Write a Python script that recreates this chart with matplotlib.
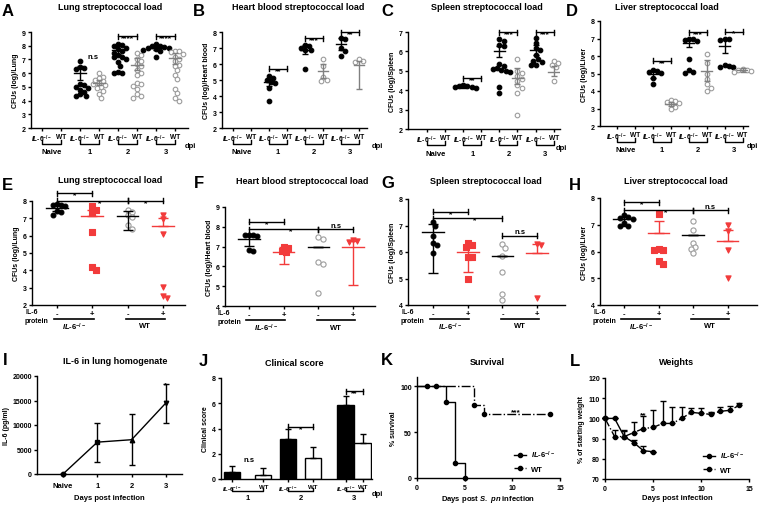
import numpy as np
import matplotlib
matplotlib.use('Agg')
import matplotlib.pyplot as plt
from matplotlib.transforms import blended_transform_factory
from matplotlib.lines import Line2D

plt.rcParams['font.family'] = ['Liberation Sans', 'DejaVu Sans']
plt.rcParams['font.weight'] = 'bold'
plt.rcParams['axes.labelweight'] = 'bold'
plt.rcParams['mathtext.fontset'] = 'custom'
plt.rcParams['mathtext.rm'] = 'Liberation Sans:bold'
plt.rcParams['mathtext.it'] = 'Liberation Sans:italic:bold'
plt.rcParams['mathtext.bf'] = 'Liberation Sans:bold'

nan = np.nan

# ---- A-D: load by day (order: KO naive, WT naive, KO d1, WT d1, KO d2, WT d2, KO d3, WT d3)
lung_pts = [[], [],
            [6.85, 6.45, 6.35, 6.3, 5.2, 5.1, 5.0, 4.9, 4.8, 4.6, 4.45, 4.35, 4.3],
            [6.0, 5.75, 5.65, 5.5, 5.4, 5.3, 5.2, 5.1, 5.0, 4.9, 4.7, 4.5, 4.2],
            [8.15, 8.05, 7.95, 7.85, 7.75, 7.6, 7.5, 7.3, 7.2, 7.15, 7.05, 6.8, 6.5, 6.1, 6.0, 6.0],
            [7.5, 7.35, 7.05, 6.9, 6.65, 6.5, 6.2, 6.0, 5.85, 5.3, 5.2, 5.05, 4.85, 4.45, 4.3, 4.2],
            [8.1, 8.0, 7.95, 7.9, 7.85, 7.8, 7.75, 7.7, 7.6, 7.2],
            [7.65, 7.6, 7.55, 7.4, 7.2, 7.0, 6.85, 6.6, 6.5, 6.2, 5.9, 5.6, 4.85, 4.55, 4.2, 4.0]]
lung_mean = [nan, nan, 6.0, 5.3, 7.7, 6.6, 7.85, 7.1]
lung_lo = [nan, nan, 5.5, 5.1, 7.4, 6.2, 7.7, 6.7]
lung_hi = [nan, nan, 6.5, 5.5, 8.0, 7.1, 8.0, 7.5]

blood_pts = [[], [], [5.25, 5.15, 5.0, 4.9, 4.8, 4.5, 3.7], [],
             [7.2, 7.1, 7.0, 6.9, 6.85, 5.7], [6.3, 5.9, 5.2, 5.0, 4.95],
             [7.6, 7.55, 7.0, 6.8, 6.5], [6.3, 6.2, 6.15]]
blood_mean = [nan, nan, 4.85, nan, 6.9, 5.55, 7.25, 5.95]
blood_lo = [nan, nan, 4.65, nan, 6.6, 5.15, 6.9, 4.45]
blood_hi = [nan, nan, 5.05, nan, 7.2, 6.0, 7.6, 6.2]

spleen_pts = [[], [], [4.25, 4.2, 4.2, 4.15, 4.15, 4.1], [],
              [6.65, 6.55, 6.35, 6.3, 5.35, 5.25, 5.15, 5.1, 5.05, 5.0, 4.95, 4.15, 3.85],
              [5.6, 5.0, 4.9, 4.75, 4.6, 4.5, 4.25, 4.1, 3.85, 2.7],
              [6.7, 6.45, 6.2, 6.05, 5.8, 5.6, 5.5, 5.45, 5.3, 5.3],
              [5.5, 5.4, 5.3, 5.2, 4.5]]
spleen_mean = [nan, nan, 4.2, nan, 6.0, 4.65, 6.05, 4.95]
spleen_lo = [nan, nan, 4.1, nan, 5.7, 4.3, 5.8, 4.75]
spleen_hi = [nan, nan, 4.3, nan, 6.3, 5.15, 6.35, 5.25]

liver_pts = [[], [], [5.2, 5.15, 5.1, 5.05, 4.75, 4.4],
             [3.5, 3.45, 3.35, 3.3, 3.25, 3.1, 3.0],
             [7.0, 6.95, 6.9, 6.85, 5.85, 5.2, 5.1, 5.05],
             [6.1, 5.6, 5.0, 4.7, 4.4, 4.2, 4.0],
             [7.0, 6.95, 6.9, 5.5, 5.45, 5.4, 5.35],
             [5.25, 5.2, 5.2, 5.15, 5.1]]
liver_mean = [nan, nan, 5.0, 3.27, 6.75, 5.15, 6.6, 5.2]
liver_lo = [nan, nan, 4.75, 3.15, 6.5, 4.6, 6.2, 5.1]
liver_hi = [nan, nan, 5.15, 3.4, 7.0, 5.75, 7.0, 5.3]

day_groups = ['Naive', '1', '2', '3']

# ---- E-H: IL-6 protein (order: KO -, KO +, WT -, WT +)
prot_ticks = ['-', '+', '-', '+']
e_pts = [[7.8, 7.75, 7.75, 7.7, 7.4, 7.35, 7.2], [7.7, 7.5, 7.3, 6.2, 4.2, 4.0],
         [7.5, 7.35, 7.2, 7.1, 6.6, 6.4], [7.2, 6.95, 6.1, 3.05, 2.5, 2.4]]
e_mean = [7.6, 7.15, 7.15, 6.55]
e_lo = [7.4, 7.15, 6.35, 6.55]
e_hi = [7.75, 7.5, 7.45, 7.0]

f_pts = [[7.6, 7.6, 7.6, 7.55, 6.85, 6.8], [7.0, 6.95, 6.8, 6.75],
         [7.5, 7.4, 6.2, 6.1, 4.65], [7.35, 7.3, 7.25]]
f_mean = [7.4, 6.75, 7.0, 7.0]
f_lo = [7.05, 6.1, 7.0, 5.05]
f_hi = [7.6, 7.0, 7.0, 7.3]

g_pts = [[7.15, 7.0, 6.6, 6.35, 6.25, 5.95], [6.35, 6.25, 6.2, 5.8, 5.8, 5.0],
         [6.3, 6.15, 5.85, 5.25, 4.4, 4.2], [6.3, 6.25, 4.25]]
g_mean = [6.75, 6.0, 5.85, 5.95]
g_lo = [5.2, 5.25, 5.85, 5.95]
g_hi = [7.05, 6.25, 5.85, 6.3]

h_pts = [[7.35, 7.3, 7.25, 7.2, 7.05, 6.95, 6.95], [7.4, 6.1, 6.05, 6.05, 5.65, 5.55],
         [7.15, 6.8, 6.3, 6.15, 6.1, 5.95], [7.0, 6.75, 6.05, 5.0]]
h_mean = [7.2, 6.68, 6.62, 6.4]
h_lo = [6.95, 6.68, 6.62, 6.4]
h_hi = [7.3, 7.15, 6.62, 6.8]

# ---- I: IL-6 in lung
il6_days = ['Naive', '1', '2', '3']
il6_conc = [0, 6500, 7000, 14500]
il6_err_lo = [0, 4000, 5200, 4100]
il6_err_hi = [0, 4000, 5300, 3800]

# ---- J: clinical score
score_days = ['1', '2', '3']
score_ko = [0.55, 3.2, 5.85]
score_ko_err = [0.5, 0.75, 0.75]
score_wt = [0.35, 1.7, 2.85]
score_wt_err = [0.5, 0.8, 0.75]

# ---- K: survival
surv_ko_days = [0, 1, 2, 3, 4, 5]
surv_ko = [100, 100, 100, 83.3, 16.7, 0]
surv_wt_days = [0, 6, 7, 14]
surv_wt = [100, 80, 70, 70]

# ---- L: weights
weight_ko_days = [0, 1, 2, 3, 4, 5]
weight_ko = [100, 100, 91, 88, 84, 83.5]
weight_ko_err = [0, 0, 3, 1.5, 2.5, 0]
weight_wt_days = list(range(15))
weight_wt = [100, 91, 91, 93, 95, 95.5, 97.5, 97.5, 100, 103, 102.5, 102, 103.5, 104, 106.5]
weight_wt_err = [0, 3.5, 3.5, 5, 6, 8.5, 11, 8, 5.5, 2, 2.5, 1, 2, 2, 1.3]

KO = r'$\mathit{IL}$-$\mathit{6}^{-/-}$'
RED = '#f23b3b'
WT_GRAY = '#9c9c9c'
WT_LINE = '#808080'

W, H = 760, 506
fig = plt.figure(figsize=(W / 100, H / 100), dpi=100)


def fy(py):
    return 1 - py / H


def add_ax(l, t, r, b):
    ax = fig.add_axes([l / W, 1 - b / H, (r - l) / W, (b - t) / H])
    for s in ['top', 'right']:
        ax.spines[s].set_visible(False)
    for s in ['left', 'bottom']:
        ax.spines[s].set_linewidth(1.0)
    ax.tick_params(width=1.0, length=2.5, labelsize=5, pad=1.2)
    return ax


def px_scale(ax):
    bb = ax.get_position()
    y0, y1 = ax.get_ylim()
    x0, x1 = ax.get_xlim()
    return bb.width * W / (x1 - x0), bb.height * H / (y1 - y0)


def swarm(vals, ax, d=4.2):
    # simple beeswarm in pixel space so equal values sit side by side
    xpp, ypp = px_scale(ax)
    placed, offs = [], []
    cands = [0]
    for k in range(1, 15):
        cands += [k, -k]
    for v in vals:
        yp = v * ypp
        for c in cands:
            xp = c * d * 0.5
            if all((xp - a) ** 2 + (yp - b) ** 2 >= d ** 2 for a, b in placed):
                break
        placed.append((xp, yp))
        offs.append(xp / xpp)
    return np.array(offs)


def draw_group(ax, x, pts, mean, lo, hi, marker, face, edge, lcolor, s=11, mw=0.6, cap=2):
    if pts:
        ax.scatter(swarm(pts, ax) + x, pts, s=s, marker=marker, facecolors=face,
                   edgecolors=edge, linewidths=0.8, zorder=2, clip_on=False)
    if not np.isnan(mean):
        ax.plot([x - mw / 2, x + mw / 2], [mean, mean], color=lcolor, lw=1.0, zorder=3)
        ax.errorbar([x], [mean], yerr=[[mean - lo], [hi - mean]], fmt='none', ecolor=lcolor,
                    elinewidth=1.0, capsize=cap, capthick=1.0, zorder=3)


def sig(ax, x1, x2, y, text, tx=None, h_px=2.5, fs=5.5):
    xpp, ypp = px_scale(ax)
    h = h_px / ypp
    kw = dict(color='k', lw=1.0, clip_on=False, zorder=4)
    if x1 != x2:
        ax.plot([x1, x2], [y, y], **kw)
        ax.plot([x1, x1], [y - h, y + h], **kw)
        ax.plot([x2, x2], [y - h, y + h], **kw)
    tx = (x1 + x2) / 2 if tx is None else tx
    if '*' in text:
        ax.annotate(text, (tx, y), xytext=(0, -2.3), textcoords='offset points',
                    ha='center', va='baseline', fontsize=fs + 0.5, annotation_clip=False)
    else:
        ax.annotate(text, (tx, y), xytext=(0, 0.3), textcoords='offset points',
                    ha='center', va='bottom', fontsize=fs, annotation_clip=False)


def day_panel(box, pts, means, los, his, ylim, xlim, ylabel, brackets, dpi_xy, ns=None):
    ax = add_ax(*box)
    ax.set_ylim(*ylim)
    ax.set_xlim(*xlim)
    ax.set_yticks(range(ylim[0], ylim[1] + 1))
    for i in range(8):
        if i % 2 == 0:
            draw_group(ax, i, pts[i], means[i], los[i], his[i], 'o', 'k', 'k', 'k')
        else:
            draw_group(ax, i, pts[i], means[i], los[i], his[i], 'o', 'white', WT_GRAY, WT_LINE)
    for b in brackets:
        sig(ax, *b)
    if ns is not None:
        sig(ax, ns[0], ns[0], ns[1], 'n.s')
    ax.set_xticks(range(8))
    ax.set_xticklabels([KO, 'WT'] * 4, fontsize=4.8)
    ax.set_ylabel(ylabel, fontsize=5, labelpad=2)
    bottom = box[3]
    tr = blended_transform_factory(ax.transData, fig.transFigure)
    for g, name in enumerate(day_groups):
        x0, x1 = 2 * g, 2 * g + 1
        ax.plot([x0, x0, x1, x1], [fy(bottom + 12), fy(bottom + 16), fy(bottom + 16), fy(bottom + 12)],
                transform=tr, color='k', lw=1.0, clip_on=False)
        ax.text((x0 + x1) / 2, fy(bottom + 24), name, transform=tr, ha='center', va='center', fontsize=5.5)
    fig.text(dpi_xy[0] / W, fy(dpi_xy[1]), 'dpi', ha='center', va='center', fontsize=5.5)
    return ax


def protein_panel(box, pts, means, los, his, ylim, xlim, ylabel, brackets):
    ax = add_ax(*box)
    ax.set_ylim(*ylim)
    ax.set_xlim(*xlim)
    ax.set_yticks(range(ylim[0], ylim[1] + 1))
    styles = [('o', 'k', 'k', 'k', 12), ('s', RED, RED, RED, 13),
              ('o', 'white', WT_GRAY, 'k', 14), ('v', RED, RED, RED, 14)]
    for i in range(4):
        m, fc, ec, lc, s = styles[i]
        draw_group(ax, i, pts[i], means[i], los[i], his[i], m, fc, ec, lc, s=s, mw=0.62, cap=3.5)
    for b in brackets:
        sig(ax, *b)
    ax.set_xticks(range(4))
    ax.set_xticklabels(prot_ticks, fontsize=5.5)
    ax.set_ylabel(ylabel, fontsize=5, labelpad=2)
    l, bottom = box[0], box[3]
    fig.text((l - 7) / W, fy(bottom + 7), 'IL-6', ha='left', va='center', fontsize=5)
    fig.text((l - 7) / W, fy(bottom + 15.5), 'protein', ha='left', va='center', fontsize=5)
    tr = blended_transform_factory(ax.transData, fig.transFigure)
    for (x0, x1), name in zip([(-0.08, 1.05), (1.95, 3.05)], [KO, 'WT']):
        ax.plot([x0, x1], [fy(bottom + 13.5), fy(bottom + 13.5)], transform=tr,
                color='k', lw=1.2, clip_on=False)
        ax.text((x0 + x1) / 2, fy(bottom + 21), name, transform=tr, ha='center', va='center', fontsize=5.5)
    return ax


# ---- row 1
day_panel((31, 33, 188, 129), lung_pts, lung_mean, lung_lo, lung_hi, (2, 9), (-0.58, 7.68),
          'CFUs (log)/Lung', [(4, 5, 8.7, '****'), (6, 7, 8.7, '****')], (190, 146), ns=(2.7, 6.95))
day_panel((222, 33, 367, 129), blood_pts, blood_mean, blood_lo, blood_hi, (2, 8), (-0.61, 7.44),
          'CFUs (log)/Heart blood', [(2, 3, 5.7, '**'), (4, 5, 7.62, '***'), (6, 7, 8.0, '**')], (377, 146))
day_panel((408, 33, 560, 130), spleen_pts, spleen_mean, spleen_lo, spleen_hi, (2, 7), (-1.05, 7.35),
          'CFUs (log)/Spleen', [(2, 3, 4.62, '**'), (4, 5, 7.0, '***'), (6, 7, 7.0, '***')], (561, 149))
day_panel((600, 22, 748, 127), liver_pts, liver_mean, liver_lo, liver_hi, (2, 8), (-0.95, 7.3),
          'CFUs (log)/Liver', [(2, 3, 5.72, '**'), (4, 5, 7.36, '***'), (6, 7, 7.4, '*')], (752, 147))

# ---- row 2
protein_panel((32, 202, 185, 306), e_pts, e_mean, e_lo, e_hi, (2, 8), (-0.71, 3.63), 'CFUs (log)/Lung',
              [(0, 1, 8.45, '*'), (0, 2, 8.02, '*', 1.2), (2, 3, 8.02, '*')])
protein_panel((225, 208, 375, 307), f_pts, f_mean, f_lo, f_hi, (4, 9), (-0.69, 3.63), 'CFUs (log)/Heart blood',
              [(0, 1, 8.25, '*'), (0, 2, 7.87, '*', 1.2), (2, 3, 7.87, 'n.s')])
protein_panel((408, 200, 565, 306), g_pts, g_mean, g_lo, g_hi, (4, 8), (-0.72, 3.8), 'CFUs (log)/Spleen',
              [(0, 1, 7.52, '*'), (0, 2, 7.27, '*', 1.2), (2, 3, 6.62, 'n.s')])
protein_panel((600, 199, 757, 306), h_pts, h_mean, h_lo, h_hi, (4, 8), (-0.7, 3.85), 'CFUs (log)/Liver',
              [(0, 1, 7.85, '*'), (0, 2, 7.55, '*', 1.2), (2, 3, 7.55, 'n.s')])

# ---- I
ax = add_ax(37, 377, 182, 475)
xi = np.arange(len(il6_days))
ax.errorbar(xi, il6_conc, yerr=[il6_err_lo, il6_err_hi], color='k', lw=1.0, elinewidth=1.0,
            capsize=2, capthick=1.0, zorder=2)
for x, y, m in zip(xi, il6_conc, ['o', 's', '^', 'v']):
    ax.plot(x, y, marker=m, ms=3.2, color='k', clip_on=False, zorder=3)
ax.set_xlim(-0.76, 3.47)
ax.set_ylim(0, 20000)
ax.set_yticks(range(0, 20001, 5000))
ax.set_xticks(xi)
ax.set_xticklabels(il6_days, fontsize=5.5)
ax.tick_params(axis='x', pad=3)
sig(ax, 3, 3, 18600, '*')
ax.set_ylabel('IL-6 (pg/ml)', fontsize=5, labelpad=2)
ax.set_xlabel('Days post infection', fontsize=5.5, labelpad=4)

# ---- J
ax = add_ax(221, 379, 372, 480)
pos_ko = [0, 1.8, 3.65]
pos_wt = [1, 2.6, 4.2]
bw = 0.53
ax.bar(pos_ko, score_ko, bw, color='k', edgecolor='k', lw=1.0, zorder=2)
ax.bar(pos_wt, score_wt, bw, color='white', edgecolor='k', lw=1.0, zorder=2)
ax.errorbar(pos_ko, score_ko, yerr=[[0] * 3, score_ko_err], fmt='none', ecolor='k',
            elinewidth=1.0, capsize=2.5, capthick=1.0, zorder=3)
ax.errorbar(pos_wt, score_wt, yerr=[[0] * 3, score_wt_err], fmt='none', ecolor='k',
            elinewidth=1.0, capsize=2.5, capthick=1.0, zorder=3)
ax.set_xlim(-0.36, 4.5)
ax.set_ylim(0, 8)
ax.set_yticks(range(0, 9, 2))
ax.set_xticks(pos_ko + pos_wt)
ax.set_xticklabels([KO] * 3 + ['WT'] * 3, fontsize=4.4)
ax.tick_params(axis='x', pad=0.8)
sig(ax, 0.55, 0.55, 1.2, 'n.s')
sig(ax, 1.8, 2.6, 4.15, '*')
sig(ax, 3.65, 4.2, 6.95, '**')
ax.set_ylabel('Clinical score', fontsize=5, labelpad=2)
tr = blended_transform_factory(ax.transData, fig.transFigure)
for x0, x1, name in zip(pos_ko, pos_wt, score_days):
    ax.plot([x0, x0, x1, x1], [fy(489), fy(492), fy(492), fy(489)], transform=tr,
            color='k', lw=1.0, clip_on=False)
    ax.text((x0 + x1) / 2, fy(498.5), name, transform=tr, ha='center', va='center', fontsize=5.5)
fig.text(377 / W, fy(495), 'dpi', ha='center', va='center', fontsize=5.5)

# ---- K
ax = add_ax(417, 378, 560, 479)
ax.step(surv_ko_days, surv_ko, where='post', color='k', lw=1.0)
ax.plot(surv_ko_days[1:], surv_ko[1:], 'o', ms=3, color='k', clip_on=False)
ax.step(surv_wt_days, surv_wt, where='post', color='k', lw=1.0, ls='-.')
ax.plot(surv_wt_days[1:], surv_wt[1:], 'o', ms=3, color='k', clip_on=False)
ax.set_xlim(0, 15)
ax.set_ylim(0, 110)
ax.set_yticks([0, 50, 100])
ax.set_xticks([0, 5, 10, 15])
ax.tick_params(axis='x', pad=2)
sig(ax, 10.4, 10.4, 74, '***')
ax.set_ylabel('% survival', fontsize=5, labelpad=2)
ax.set_xlabel(r'Days post $\mathit{S.\ pn}$ infection', fontsize=5.5, labelpad=1.5)
hk = [Line2D([0], [0], color='k', lw=1.0, marker='o', ms=3),
      Line2D([0], [0], color='k', lw=1.0, ls='-.', marker='o', ms=3)]
ax.legend(hk, [KO, 'WT'], loc='lower right', bbox_to_anchor=(1.0, 0.0), frameon=False, fontsize=5.5,
          handlelength=1.6, handletextpad=0.6, labelspacing=0.7, borderaxespad=0.3)

# ---- L
ax = add_ax(605, 379, 749, 480)
ax.errorbar(weight_wt_days, weight_wt, yerr=[[0] * 15, weight_wt_err], color='k', lw=1.0, ls='-.',
            marker='o', ms=3, elinewidth=1.0, capsize=2, capthick=1.0, clip_on=False)
ax.errorbar(weight_ko_days, weight_ko, yerr=[[0] * 6, weight_ko_err], color='k', lw=1.0,
            marker='o', ms=3, elinewidth=1.0, capsize=2, capthick=1.0, clip_on=False)
ax.set_xlim(0, 15)
ax.set_ylim(70, 120)
ax.set_yticks(range(70, 121, 10))
ax.set_xticks([0, 5, 10, 15])
ax.tick_params(axis='x', pad=2)
sig(ax, 4, 4, 102.5, '**')
ax.set_ylabel('% of starting weight', fontsize=5, labelpad=2)
ax.set_xlabel('Days post infection', fontsize=5.5, labelpad=1.5)
ax.legend(hk, [KO, 'WT'], loc='lower right', bbox_to_anchor=(1.0, 0.0), frameon=False, fontsize=5.5,
          handlelength=1.6, handletextpad=0.6, labelspacing=0.7, borderaxespad=0.3)

# ---- titles and panel letters
titles = [('Lung streptococcal load', 110, 8), ('Heart blood streptococcal load', 298, 8),
          ('Spleen streptococcal load', 487, 8), ('Liver streptococcal load', 667, 7),
          ('Lung streptococcal load', 110, 181), ('Heart blood streptococcal load', 302, 182),
          ('Spleen streptococcal load', 486, 182), ('Liver streptococcal load', 676, 182),
          ('IL-6 in lung homogenate', 115, 362), ('Clinical score', 294, 364),
          ('Survival', 487, 363), ('Weights', 677, 363)]
for t, x, y in titles:
    fig.text(x / W, fy(y), t, ha='center', va='center', fontsize=6.5)

letters = [('A', 8, 11), ('B', 199, 11), ('C', 387, 11), ('D', 572, 11),
           ('E', 7, 185), ('F', 199, 183), ('G', 388, 184), ('H', 575, 185),
           ('I', 5, 361), ('J', 203, 362), ('K', 387, 361), ('L', 575, 362)]
for t, x, y in letters:
    fig.text(x / W, fy(y), t, ha='center', va='center', fontsize=12)

fig.savefig('out.png', dpi=100)
